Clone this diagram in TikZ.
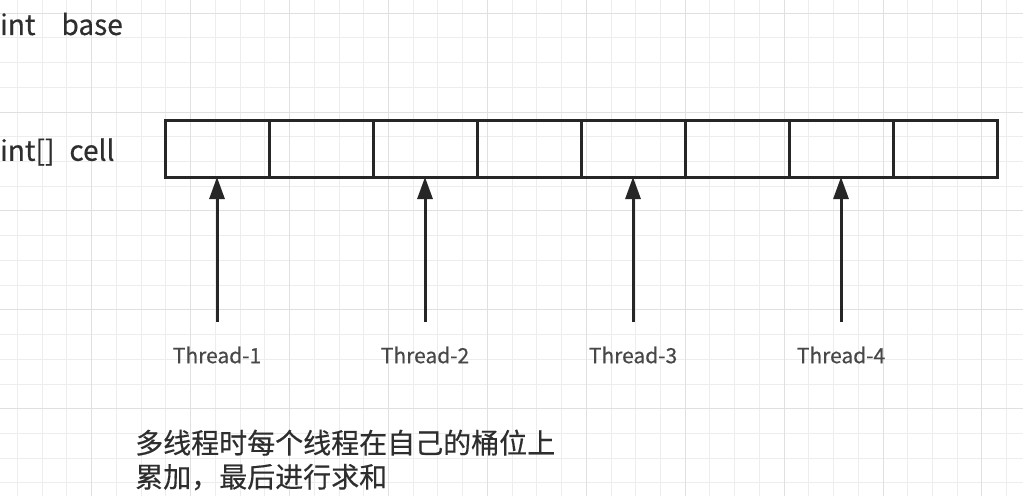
\documentclass[tikz,border=0pt]{standalone}
\usepackage{fontspec}
\setmainfont{Noto Sans CJK SC}[FakeBold=0.4]
\usetikzlibrary{arrows.meta}

\definecolor{gridminor}{HTML}{EDEDED}
\definecolor{gridmajor}{HTML}{E0E0E0}
\definecolor{ink}{HTML}{262626}
\definecolor{txt}{HTML}{2E2E2E}
\definecolor{thr}{HTML}{474747}

\tikzset{
  cellbox/.style={draw=ink, line width=3pt, minimum width=104pt, minimum height=57pt, inner sep=0pt, outer sep=0pt},
  push/.style={draw=ink, line width=3pt, -{Triangle[length=22pt,width=15pt]}},
  vartxt/.style={text=txt, font=\fontsize{28}{32}\selectfont, anchor=west, inner sep=0pt},
  thrtxt/.style={text=thr, font=\fontsize{21}{25}\selectfont, inner sep=0pt},
  notetxt/.style={text=txt, font=\fontsize{28}{34}\selectfont, anchor=west, align=left, inner sep=0pt},
}

\begin{document}
\begin{tikzpicture}[x=1pt,y=-1pt]

\useasboundingbox [fill=white] (0,0) rectangle (1023,496);

% grid paper
\foreach \k in {-3,...,37}
  \draw [gridminor, line width=1pt] ({91.7+24.73*\k},0) -- ({91.7+24.73*\k},496);
\foreach \k in {-4,...,15}
  \draw [gridminor, line width=1pt] (0,{112+24.73*\k}) -- (1023,{112+24.73*\k});
\foreach \m in {0,...,9}
  \draw [gridmajor, line width=1pt] ({91.7+98.92*\m},0) -- ({91.7+98.92*\m},496);
\foreach \m in {-1,...,3}
  \draw [gridmajor, line width=1pt] (0,{112+98.92*\m}) -- (1023,{112+98.92*\m});


\node[vartxt] (base) at (0,24) {int\hspace{26pt}base};
\node[vartxt] (cell) at (0,152) {int[]\hspace{15pt}cell};

%%%%%%%%%%%%%%%%%%%%%%%%%%%%%%%%%%%%%%
\foreach \i in {1,...,8}
  \node[cellbox] (c\i) at ({165+104*(\i-0.5)},148.5) {};


\coordinate (a1) at (217,322);
\coordinate (a2) at (425,322);
\coordinate (a3) at (633,322);
\coordinate (a4) at (841,322);

\draw[push] (a1) -- (c1.south);
\draw[push] (a2) -- (c3.south);
\draw[push] (a3) -- (c5.south);
\draw[push] (a4) -- (c7.south);

\node[thrtxt] at (217,355) (t1) {Thread-1};
\node[thrtxt] at (425,355) (t2) {Thread-2};
\node[thrtxt] at (633,355) (t3) {Thread-3};
\node[thrtxt] at (841,355) (t4) {Thread-4};

%%%%%%%%%%%%%%%%%%%%%%%%%%%%%%%%%%%%%%
\node[notetxt] (note) at (135,460) {多线程时每个线程在自己的桶位上\\累加，最后进行求和};

\end{tikzpicture}
\end{document}
